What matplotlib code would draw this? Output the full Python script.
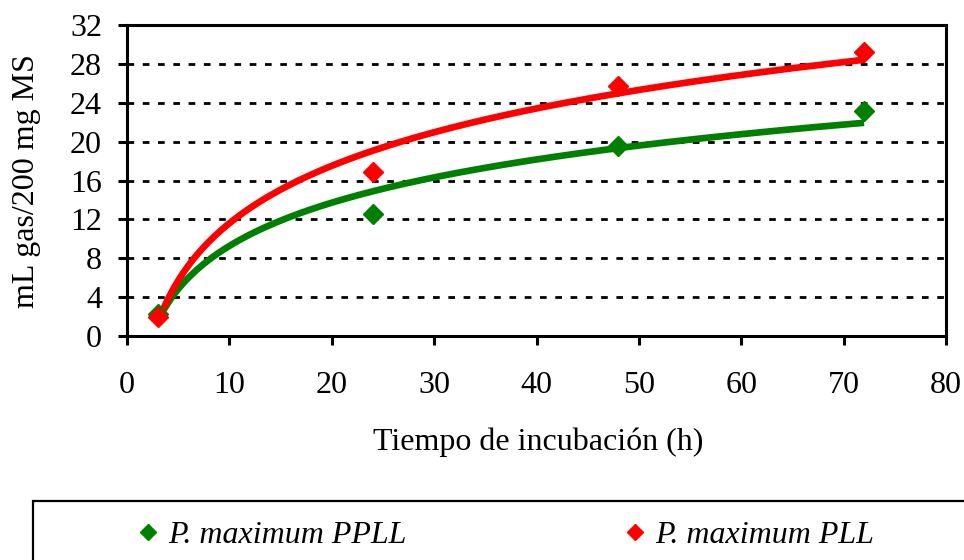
import numpy as np
import matplotlib
matplotlib.use("Agg")
import matplotlib.pyplot as plt
from matplotlib.patches import Rectangle
from matplotlib.lines import Line2D

hours = [3, 24, 48, 72]
gas_ppll = [2.3, 12.6, 19.6, 23.2]
gas_pll = [2.0, 16.9, 25.7, 29.2]
names = ["P. maximum PPLL", "P. maximum PLL"]
colors = ["#008000", "#ff0000"]

plt.rcParams["font.family"] = ["Liberation Serif", "DejaVu Serif"]
FS = 23

fig = plt.figure(figsize=(9.64, 5.6), dpi=100)
ax = fig.add_axes([127 / 964, 1 - 336 / 560, (946 - 127) / 964, (336 - 25) / 560])

xs = np.linspace(3, 72, 200)
for ys, c in zip([gas_ppll, gas_pll], colors):
    # logarithmic trendline, like the spreadsheet one
    a, b = np.polyfit(np.log(hours), ys, 1)
    ax.plot(xs, a * np.log(xs) + b, color=c, lw=4.8, zorder=3, solid_capstyle="butt")
    ax.plot(hours, ys, "D", color=c, ms=10, zorder=4, mec=c)

ax.set_xlim(0, 80)
ax.set_ylim(0, 32)
ax.set_xticks(range(0, 81, 10))
ax.set_yticks(range(0, 33, 4))
for y in range(4, 32, 4):
    ax.axhline(y, color="black", lw=2, ls=(0, (2.4, 3.1)), zorder=1)

for s in ax.spines.values():
    s.set_linewidth(2.2)
ax.tick_params(direction="out", length=6.5, width=2.2, labelsize=FS)
ax.tick_params(axis="x", pad=19)
ax.tick_params(axis="y", pad=11.5)

fig.text(538 / 964, 1 - 450 / 560, "Tiempo de incubación (h)", fontsize=FS,
         ha="center", va="baseline")
fig.text(27 / 964, 1 - 181 / 560, "mL gas/200 mg MS", fontsize=FS,
         ha="center", va="center", rotation=90)

fig.patches.append(Rectangle((33 / 964, -0.1), 1.0, 1 - 501 / 560 + 0.1,
                             transform=fig.transFigure, fill=False, ec="black", lw=1.6))
handles = [Line2D([], [], ls="none", marker="D", color=c, ms=8) for c in colors]
fig.legend(handles, names, loc="center left", bbox_to_anchor=(135 / 964, 1 - 535 / 560),
           ncol=2, frameon=False, prop={"style": "italic", "size": FS},
           borderpad=0, borderaxespad=0, handlelength=0.8,
           handletextpad=0.225, columnspacing=6.77)

fig.savefig("out.png", dpi=100)
